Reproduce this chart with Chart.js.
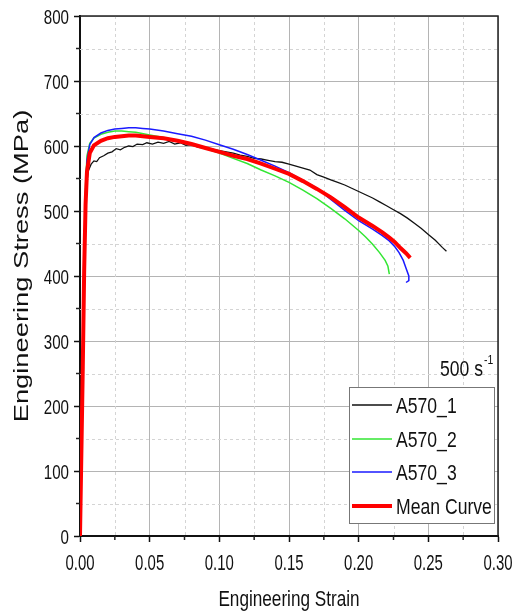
<!DOCTYPE html>
<html>
<head>
<meta charset="utf-8">
<script src="https://cdn.jsdelivr.net/npm/chart.js@4.4.1/dist/chart.umd.min.js"></script>
<style>
  html, body { margin: 0; padding: 0; background: #fff; }
  #wrap { width: 514px; height: 615px; }
</style>
</head>
<body>
<div id="wrap"><canvas id="stressChart" width="514" height="615"></canvas></div>
<script>
// tick labels
const strainTicks = ["0.00", "0.05", "0.10", "0.15", "0.20", "0.25", "0.30"];
const stressTicks = [0, 100, 200, 300, 400, 500, 600, 700, 800];

const seriesNames = ["A570_1", "A570_2", "A570_3", "Mean Curve"];

// A570_1 (black)
const strainA1 = [0, 0.002, 0.003, 0.004, 0.005, 0.006, 0.008, 0.010, 0.012, 0.014, 0.017, 0.020, 0.023, 0.026, 0.029,
    0.032, 0.035, 0.038, 0.041, 0.045, 0.048, 0.052, 0.056, 0.060, 0.064, 0.068, 0.072, 0.076, 0.080, 0.085, 0.090,
    0.095, 0.100, 0.105, 0.110, 0.115, 0.120, 0.125, 0.130, 0.135, 0.140, 0.145, 0.150, 0.155, 0.160, 0.165, 0.170,
    0.175, 0.180, 0.185, 0.190, 0.195, 0.200, 0.205, 0.210, 0.215, 0.220, 0.225, 0.230, 0.235, 0.240, 0.245, 0.250,
    0.255, 0.260, 0.263];
const stressA1 = [0, 250, 400, 500, 545, 562, 572, 577, 576, 582, 585, 589, 591, 596, 594,
    598, 600, 599, 603, 602, 605, 603, 606, 604, 607, 603, 605, 601, 602, 598, 597,
    595, 593, 591, 589, 586, 584, 581, 580, 578, 576, 575, 572, 569, 566, 563, 556,
    552, 548, 544, 540, 535, 530, 525, 520, 514, 508, 502, 496, 489, 481, 473, 464,
    455, 444, 438];

// A570_2 (green)
const strainA2 = [0, 0.002, 0.003, 0.004, 0.005, 0.007, 0.010, 0.015, 0.020, 0.025, 0.030, 0.035, 0.040, 0.050, 0.060,
    0.070, 0.080, 0.090, 0.100, 0.110, 0.120, 0.130, 0.140, 0.150, 0.160, 0.170, 0.180, 0.190, 0.200, 0.205, 0.210,
    0.215, 0.219, 0.221, 0.222];
const stressA2 = [0, 280, 430, 540, 585, 604, 612, 618, 621, 623, 623, 622, 621, 617, 613,
    608, 602, 596, 589, 581, 573, 563, 554, 544, 532, 519, 504, 488, 470, 460, 449,
    436, 424, 415, 403];

// A570_3 (blue)
const strainA3 = [0, 0.002, 0.003, 0.004, 0.005, 0.007, 0.010, 0.015, 0.020, 0.025, 0.030, 0.035, 0.040, 0.045, 0.050,
    0.060, 0.070, 0.080, 0.090, 0.100, 0.110, 0.120, 0.130, 0.140, 0.150, 0.160, 0.170, 0.180, 0.190, 0.200, 0.210,
    0.217, 0.222, 0.226, 0.229, 0.232, 0.234, 0.236, 0.236, 0.234];
const stressA3 = [0, 280, 430, 530, 578, 602, 613, 620, 624, 626, 627, 628, 628, 627, 626,
    623, 619, 615, 609, 602, 595, 587, 578, 569, 559, 547, 535, 518, 501, 485, 472,
    462, 454, 445, 436, 424, 412, 400, 393, 390];

// mean curve (red)
const strainMean = [0, 0.002, 0.003, 0.004, 0.005, 0.007, 0.010, 0.015, 0.020, 0.025, 0.030, 0.035, 0.040, 0.045, 0.050,
    0.060, 0.070, 0.080, 0.090, 0.100, 0.110, 0.120, 0.130, 0.140, 0.150, 0.160, 0.170, 0.180, 0.190, 0.200, 0.210,
    0.217, 0.222, 0.226, 0.230, 0.234, 0.237];
const stressMean = [0, 260, 410, 510, 560, 589, 601, 608, 612, 614, 615, 616, 616, 615, 614,
    612, 608, 603, 597, 591, 585, 580, 573, 565, 557, 546, 534, 521, 506, 490, 477,
    467, 459, 452, 443, 435, 428];

const lineColors = ["#111111", "#33e633", "#1a1aff", "#ff0000"];
const lineWidths = [1.3, 1.5, 1.5, 4];

const fontFam = "'Liberation Sans', Arial, sans-serif";

function toPoints(xs, ys) {
    return xs.map((x, i) => ({ x: x, y: ys[i] }));
}

const allSeries = [
    toPoints(strainA1, stressA1),
    toPoints(strainA2, stressA2),
    toPoints(strainA3, stressA3),
    toPoints(strainMean, stressMean)
];

const datasets = allSeries.map((pts, i) => ({
    label: seriesNames[i],
    data: pts,
    borderColor: lineColors[i],
    borderWidth: lineWidths[i],
    pointRadius: 0,
    tension: 0,
    fill: false,
    order: i === 3 ? 0 : 4 - i
}));

// text squeezed horizontally like the source figure
function squeezedText(ctx, text, x, y, size, align, sx) {
    ctx.save();
    ctx.translate(x, y);
    ctx.scale(sx, 1);
    ctx.font = size + "px " + fontFam;
    ctx.textAlign = align;
    ctx.fillText(text, 0, 0);
    ctx.restore();
}

// minor grid, minor ticks, tick labels, frame, titles, legend
const decorPlugin = {
    id: "decor",
    beforeDatasetsDraw(chart) {
        const ctx = chart.ctx;
        const area = chart.chartArea;
        const xs = chart.scales.x;
        const ys = chart.scales.y;
        ctx.save();
        ctx.strokeStyle = "#d4d4d4";
        ctx.lineWidth = 1;
        ctx.setLineDash([3, 3]);
        for (let v = 0.025; v < 0.3; v += 0.05) {
            const px = Math.round(xs.getPixelForValue(v)) + 0.5;
            ctx.beginPath();
            ctx.moveTo(px, area.top);
            ctx.lineTo(px, area.bottom);
            ctx.stroke();
        }
        for (let v = 50; v < 800; v += 100) {
            const py = Math.round(ys.getPixelForValue(v)) + 0.5;
            ctx.beginPath();
            ctx.moveTo(area.left, py);
            ctx.lineTo(area.right, py);
            ctx.stroke();
        }
        ctx.restore();
    },
    afterDraw(chart) {
        const ctx = chart.ctx;
        const area = chart.chartArea;
        const xs = chart.scales.x;
        const ys = chart.scales.y;
        ctx.save();

        // frame
        ctx.strokeStyle = "#222";
        ctx.lineWidth = 1.5;
        ctx.beginPath();
        ctx.moveTo(area.left, area.top);
        ctx.lineTo(area.right, area.top);
        ctx.lineTo(area.right, area.bottom);
        ctx.stroke();

        // minor ticks outside
        for (let v = 0.025; v < 0.3; v += 0.05) {
            const px = xs.getPixelForValue(v);
            ctx.beginPath();
            ctx.moveTo(px, area.bottom);
            ctx.lineTo(px, area.bottom + 4);
            ctx.stroke();
        }
        for (let v = 50; v < 800; v += 100) {
            const py = ys.getPixelForValue(v);
            ctx.beginPath();
            ctx.moveTo(area.left, py);
            ctx.lineTo(area.left - 4, py);
            ctx.stroke();
        }

        // tick labels
        ctx.fillStyle = "#111";
        ctx.textBaseline = "alphabetic";
        strainTicks.forEach(t => {
            squeezedText(ctx, t, xs.getPixelForValue(parseFloat(t)), 570, 22, "center", 0.68);
        });
        stressTicks.forEach(t => {
            squeezedText(ctx, String(t), area.left - 11, ys.getPixelForValue(t) + 7.5, 21, "right", 0.72);
        });

        // axis titles
        squeezedText(ctx, "Engineering Strain", (area.left + area.right) / 2, 606, 22, "center", 0.78);

        ctx.save();
        ctx.translate(28, 266);
        ctx.rotate(-Math.PI / 2);
        ctx.scale(1.3, 1);
        ctx.font = "21px " + fontFam;
        ctx.textAlign = "center";
        ctx.fillText("Engineering Stress (MPa)", 0, 0);
        ctx.restore();

        // rate annotation
        squeezedText(ctx, "500 s", 440, 376, 22, "left", 0.8);
        squeezedText(ctx, "-1", 484, 364, 13, "left", 0.8);

        // legend
        const bx = 349, by = 387, bw = 145, bh = 136;
        ctx.fillStyle = "#fff";
        ctx.fillRect(bx, by, bw, bh);
        ctx.strokeStyle = "#777";
        ctx.lineWidth = 1;
        ctx.strokeRect(bx + 0.5, by + 0.5, bw, bh);
        const rows = [405, 439, 472, 506];
        chart.data.datasets.forEach((ds, i) => {
            ctx.strokeStyle = ds.borderColor;
            ctx.lineWidth = ds.borderWidth;
            ctx.beginPath();
            ctx.moveTo(352, rows[i]);
            ctx.lineTo(392, rows[i]);
            ctx.stroke();
            ctx.fillStyle = "#111";
            squeezedText(ctx, ds.label, 396, rows[i] + 8, 22, "left", 0.8);
        });
        ctx.restore();
    }
};

new Chart(document.getElementById("stressChart"), {
    type: "line",
    data: { datasets: datasets },
    options: {
        responsive: false,
        animation: false,
        layout: { padding: { top: 16, right: 16, left: 0, bottom: 0 } },
        plugins: {
            legend: { display: false },
            tooltip: { enabled: false }
        },
        scales: {
            x: {
                type: "linear",
                min: 0,
                max: 0.3,
                afterFit: (scale) => { scale.height = 79; },
                afterBuildTicks: (scale) => {
                    scale.ticks = strainTicks.map(t => ({ value: parseFloat(t) }));
                },
                ticks: { display: false },
                grid: {
                    color: "#b4b4b4",
                    lineWidth: 1,
                    tickColor: "#111",
                    tickLength: 6,
                    tickWidth: 1.5
                },
                border: { color: "#111", width: 2 }
            },
            y: {
                type: "linear",
                min: 0,
                max: 800,
                afterFit: (scale) => { scale.width = 80; },
                afterBuildTicks: (scale) => {
                    scale.ticks = stressTicks.map(t => ({ value: t }));
                },
                ticks: { display: false },
                grid: {
                    color: "#b4b4b4",
                    lineWidth: 1,
                    tickColor: "#111",
                    tickLength: 6,
                    tickWidth: 1.5
                },
                border: { color: "#111", width: 2 }
            }
        }
    },
    plugins: [decorPlugin]
});
</script>
</body>
</html>
